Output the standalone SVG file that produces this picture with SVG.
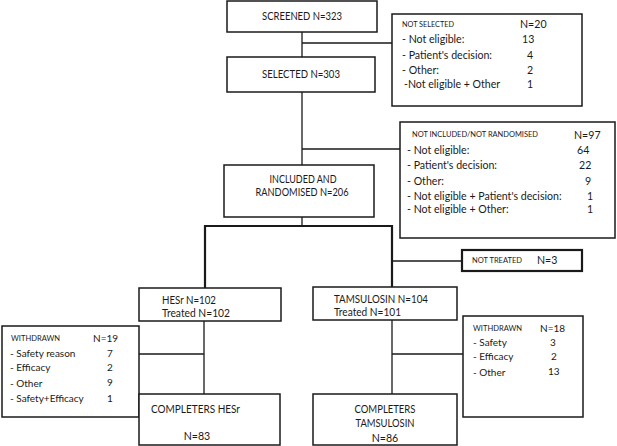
<svg xmlns="http://www.w3.org/2000/svg" width="617" height="446" viewBox="0 0 617 446">
<style>
.box{fill:#fff;stroke:#1a1a1a;stroke-width:1.5}
.thick{fill:#fff;stroke:#1a1a1a;stroke-width:2.2}
.ln{fill:none;stroke:#1a1a1a;stroke-width:1.3}
.lnb{fill:none;stroke:#1a1a1a;stroke-width:2.2}
text{font-family:Lato,"Liberation Sans",sans-serif;font-size:10.6px;fill:#1a1a1a}
.sm{font-size:8px}
.w{font-size:10px}
.c{text-anchor:middle}
</style>
<rect width="617" height="446" fill="#fff"/>
<g id="connectors">
<path class="ln" d="M302 32V57M302 43H392M302 92V165M302 149H400M302 217V226"/>
<path class="lnb" d="M205 288V226H392V287"/>
<path class="ln" d="M392 261H462M204 321V394M139 354H204M392 320V394M392 354H463"/>
</g>
<g id="screened"><rect class="box" x="227" y="1" width="150" height="31"/><text class="c" x="302" y="20" textLength="80" lengthAdjust="spacingAndGlyphs">SCREENED N=323</text></g>
<g id="not-selected"><rect class="box" x="392" y="14" width="190" height="92"/>
<text class="sm" x="402" y="27" textLength="52" lengthAdjust="spacingAndGlyphs">NOT SELECTED</text><text x="520" y="28">N=20</text>
<text x="402" y="43">- Not eligible:</text><text x="522" y="43">13</text>
<text x="402" y="59">- Patient's decision:</text><text x="527" y="59">4</text>
<text x="402" y="74">- Other:</text><text x="527" y="74">2</text>
<text x="404" y="88">-Not eligible + Other</text><text x="527" y="88">1</text></g>
<g id="selected"><rect class="box" x="227" y="57" width="148" height="35"/><text class="c" x="301" y="78" textLength="78" lengthAdjust="spacingAndGlyphs">SELECTED N=303</text></g>
<g id="not-included"><rect class="box" x="400" y="122" width="215" height="116"/>
<text class="sm" x="412" y="137" textLength="126" lengthAdjust="spacingAndGlyphs">NOT INCLUDED/NOT RANDOMISED</text><text x="574" y="139">N=97</text>
<text x="407" y="154">- Not eligible:</text><text x="577" y="154">64</text>
<text x="407" y="169">- Patient's decision:</text><text x="579" y="169">22</text>
<text x="407" y="185">- Other:</text><text x="585" y="185">9</text>
<text x="407" y="200">- Not eligible + Patient's decision:</text><text x="587" y="200">1</text>
<text x="407" y="213">- Not eligible + Other:</text><text x="587" y="213">1</text></g>
<g id="included"><rect class="box" x="224" y="165" width="150" height="52"/><text class="c" x="303" y="183" textLength="67" lengthAdjust="spacingAndGlyphs">INCLUDED AND</text><text class="c" x="302" y="196" textLength="93" lengthAdjust="spacingAndGlyphs">RANDOMISED N=206</text></g>
<g id="not-treated"><rect class="thick" x="462" y="250" width="120" height="21"/><text class="sm" x="472" y="263" textLength="50" lengthAdjust="spacingAndGlyphs">NOT TREATED</text><text x="537" y="264">N=3</text></g>
<g id="hesr"><rect class="box" x="139" y="288" width="142" height="33"/><text x="162" y="304" textLength="54" lengthAdjust="spacingAndGlyphs">HESr N=102</text><text x="162" y="317" textLength="68" lengthAdjust="spacingAndGlyphs">Treated N=102</text></g>
<g id="tamsulosin"><rect class="box" x="313" y="287" width="144" height="33"/><text x="334" y="303" textLength="94" lengthAdjust="spacingAndGlyphs">TAMSULOSIN N=104</text><text x="334" y="316" textLength="67" lengthAdjust="spacingAndGlyphs">Treated N=101</text></g>
<g id="withdrawn-hesr"><rect class="box" x="2" y="326" width="137" height="91"/>
<text class="sm" x="11" y="341" textLength="49" lengthAdjust="spacingAndGlyphs">WITHDRAWN</text><text class="w" x="93" y="342">N=19</text>
<text class="w" x="10" y="357">- Safety reason</text><text class="w" x="107" y="357">7</text>
<text class="w" x="10" y="371">- Efficacy</text><text class="w" x="107" y="371">2</text>
<text class="w" x="10" y="387">- Other</text><text class="w" x="107" y="386">9</text>
<text class="w" x="10" y="402">- Safety+Efficacy</text><text class="w" x="107" y="402">1</text></g>
<g id="withdrawn-tams"><rect class="box" x="463" y="316" width="120" height="101"/>
<text class="sm" x="473" y="331" textLength="49" lengthAdjust="spacingAndGlyphs">WITHDRAWN</text><text class="w" x="540" y="332">N=18</text>
<text class="w" x="473" y="346">- Safety</text><text class="w" x="550" y="346">3</text>
<text class="w" x="473" y="360">- Efficacy</text><text class="w" x="551" y="360">2</text>
<text class="w" x="473" y="376">- Other</text><text class="w" x="548" y="375">13</text></g>
<g id="completers-hesr"><rect class="box" x="139" y="394" width="141" height="51"/><text x="151" y="413" textLength="89" lengthAdjust="spacingAndGlyphs">COMPLETERS HESr</text><text class="c" x="197" y="440">N=83</text></g>
<g id="completers-tams"><rect class="box" x="313" y="394" width="144" height="51"/><text class="c" x="385" y="413" textLength="61" lengthAdjust="spacingAndGlyphs">COMPLETERS</text><text class="c" x="385" y="427" textLength="59" lengthAdjust="spacingAndGlyphs">TAMSULOSIN</text><text class="c" x="385" y="442">N=86</text></g>
</svg>
